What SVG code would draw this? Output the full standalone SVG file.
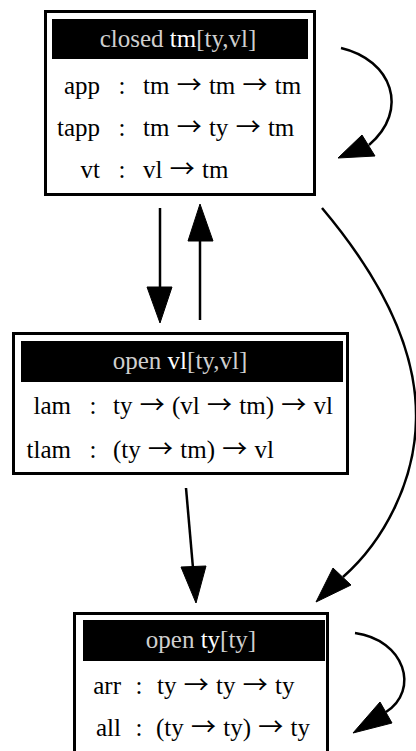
<svg xmlns="http://www.w3.org/2000/svg" width="416" height="751" viewBox="0 0 416 751">
<style>
.box{fill:#fff;stroke:#000;stroke-width:3}
.hdr{fill:#000}
.t{font-family:"Liberation Serif","Times New Roman",serif;font-size:25px;fill:#000}
.ty{word-spacing:1px}
.a{font-family:"Noto Sans CJK JP","Liberation Serif",serif;font-size:25px}
.h{font-family:"Liberation Serif","Times New Roman",serif;font-size:25px;fill:#cfcfcf}
.b{fill:#fff}
.e{fill:none;stroke:#000;stroke-width:2.5}
.ah{fill:#000;stroke:#000;stroke-width:1}
</style>
<rect width="416" height="751" fill="#fff"/>
<g id="node-tm">
<rect class="box" x="45.5" y="11.5" width="269" height="183"/>
<rect class="hdr" x="52" y="19" width="256" height="40"/>
<text class="h" x="178" y="47" text-anchor="middle">closed <tspan class="b">tm</tspan>[ty,vl]</text>
<text class="t" x="100" y="94" text-anchor="end">app</text>
<text class="t" x="122" y="94" text-anchor="middle">:</text>
<text class="t ty" x="143" y="94">tm <tspan class="a">→</tspan> tm <tspan class="a">→</tspan> tm</text>
<text class="t" x="100" y="136" text-anchor="end">tapp</text>
<text class="t" x="122" y="136" text-anchor="middle">:</text>
<text class="t ty" x="143" y="136">tm <tspan class="a">→</tspan> ty <tspan class="a">→</tspan> tm</text>
<text class="t" x="100" y="178" text-anchor="end">vt</text>
<text class="t" x="122" y="178" text-anchor="middle">:</text>
<text class="t ty" x="143" y="178">vl <tspan class="a">→</tspan> tm</text>
</g>
<g id="node-vl">
<rect class="box" x="13.5" y="333.5" width="334" height="140"/>
<rect class="hdr" x="21" y="341" width="322" height="41"/>
<text class="h" x="180" y="369" text-anchor="middle">open  <tspan class="b">vl</tspan>[ty,vl]</text>
<text class="t" x="71" y="414" text-anchor="end">lam</text>
<text class="t" x="93" y="414" text-anchor="middle">:</text>
<text class="t ty" x="113" y="414">ty <tspan class="a">→</tspan> (vl <tspan class="a">→</tspan> tm) <tspan class="a">→</tspan> vl</text>
<text class="t" x="71" y="458" text-anchor="end">tlam</text>
<text class="t" x="93" y="458" text-anchor="middle">:</text>
<text class="t ty" x="113" y="458">(ty <tspan class="a">→</tspan> tm) <tspan class="a">→</tspan> vl</text>
</g>
<g id="node-ty">
<rect class="box" x="74.5" y="613.5" width="253" height="160"/>
<rect class="hdr" x="83" y="620" width="242" height="41"/>
<text class="h" x="201" y="648" text-anchor="middle">open <tspan class="b">ty</tspan>[ty]</text>
<text class="t" x="121" y="694" text-anchor="end">arr</text>
<text class="t" x="139" y="694" text-anchor="middle">:</text>
<text class="t ty" x="157" y="694">ty <tspan class="a">→</tspan> ty <tspan class="a">→</tspan> ty</text>
<text class="t" x="121" y="736" text-anchor="end">all</text>
<text class="t" x="139" y="736" text-anchor="middle">:</text>
<text class="t ty" x="156" y="736">(ty <tspan class="a">→</tspan> ty) <tspan class="a">→</tspan> ty</text>
</g>
<g id="connectors">
<path class="e" d="M341,48 C392,60 410,110 369,145"/>
<polygon class="ah" points="362,135 375,156 338,158"/>
<path class="e" d="M160,208 L160,287"/>
<polygon class="ah" points="147,287 172,287 160,323"/>
<path class="e" d="M200,320 L200,241"/>
<polygon class="ah" points="188,241 213,241 200,204"/>
<path class="e" d="M186,488 L193,568"/>
<polygon class="ah" points="181,567 206,566 196,603"/>
<path class="e" d="M322,208 C370,265 418,340 416,420 C415,480 385,540 343,577"/>
<polygon class="ah" points="333,568 351,585 316,602"/>
<path class="e" d="M355,633 C405,640 420,690 386,712"/>
<polygon class="ah" points="380,702 392,723 353,733"/>
</g>
</svg>
